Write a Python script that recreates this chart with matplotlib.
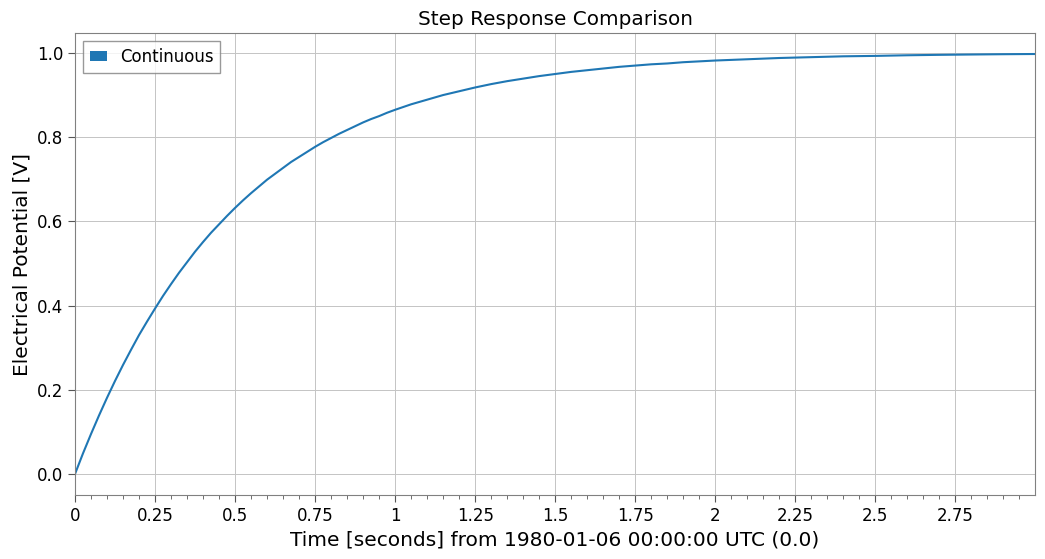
import matplotlib
matplotlib.use("Agg")
import matplotlib.pyplot as plt
from matplotlib.patches import Patch
from matplotlib.ticker import FixedLocator, MultipleLocator, FuncFormatter

# values
time_s = [0.0, 0.025, 0.05, 0.075, 0.1, 0.125, 0.15, 0.175, 0.2, 0.225, 0.25,
          0.275, 0.3, 0.325, 0.35, 0.375, 0.4, 0.425, 0.45, 0.475, 0.5,
          0.525, 0.55, 0.575, 0.6, 0.625, 0.65, 0.675, 0.7, 0.725, 0.75,
          0.775, 0.8, 0.825, 0.85, 0.875, 0.9, 0.925, 0.95, 0.975, 1.0,
          1.05, 1.1, 1.15, 1.2, 1.25, 1.3, 1.35, 1.4, 1.45, 1.5,
          1.55, 1.6, 1.65, 1.7, 1.75, 1.8, 1.85, 1.9, 1.95, 2.0,
          2.1, 2.2, 2.3, 2.4, 2.5, 2.6, 2.7, 2.8, 2.9, 2.999]
voltage = [0.0, 0.049, 0.095, 0.139, 0.181, 0.221, 0.259, 0.295, 0.330, 0.362, 0.393,
           0.423, 0.451, 0.478, 0.503, 0.528, 0.551, 0.573, 0.593, 0.613, 0.632,
           0.650, 0.667, 0.683, 0.699, 0.713, 0.727, 0.741, 0.753, 0.765, 0.777,
           0.788, 0.798, 0.808, 0.817, 0.826, 0.835, 0.843, 0.850, 0.858, 0.865,
           0.878, 0.889, 0.900, 0.909, 0.918, 0.926, 0.933, 0.939, 0.945, 0.950,
           0.955, 0.959, 0.963, 0.967, 0.970, 0.973, 0.975, 0.978, 0.980, 0.982,
           0.985, 0.988, 0.990, 0.992, 0.993, 0.9945, 0.9955, 0.9963, 0.997, 0.9975]
x_ticks = [0, 0.25, 0.5, 0.75, 1, 1.25, 1.5, 1.75, 2, 2.25, 2.5, 2.75]

fig = plt.figure(figsize=(10.45, 5.59), dpi=100)
ax = fig.add_axes([75 / 1045, 1 - 495 / 559, 960 / 1045, 462 / 559])

ax.plot(time_s, voltage, color="#1f77b4", linewidth=1.5)
ax.set_xlim(0, 2.999)
ax.margins(y=0.05)

ax.xaxis.set_major_locator(FixedLocator(x_ticks))
ax.xaxis.set_major_formatter(FuncFormatter(lambda v, p: f"{v:g}"))
ax.xaxis.set_minor_locator(MultipleLocator(0.05))
ax.tick_params(axis="both", which="major", labelsize=12, direction="out", length=5,
               color="#555555")
ax.tick_params(axis="x", which="minor", direction="out", length=3, color="#555555")

ax.grid(True, which="major", color="#c4c4c4", linewidth=0.7)
ax.set_axisbelow(True)
for s in ax.spines.values():
    s.set_color("#808080")

ax.set_title("Step Response Comparison", fontsize=14.4)
ax.set_xlabel("Time [seconds] from 1980-01-06 00:00:00 UTC (0.0)", fontsize=14.5)
ax.set_ylabel("Electrical Potential [V]", fontsize=14.5)

handle = Patch(facecolor="#1f77b4", label="Continuous")
ax.legend(handles=[handle], loc="upper left", fontsize=12, fancybox=False,
          edgecolor="#808080", handlelength=1.0, handleheight=0.5)

fig.savefig("out.png", dpi=100)
